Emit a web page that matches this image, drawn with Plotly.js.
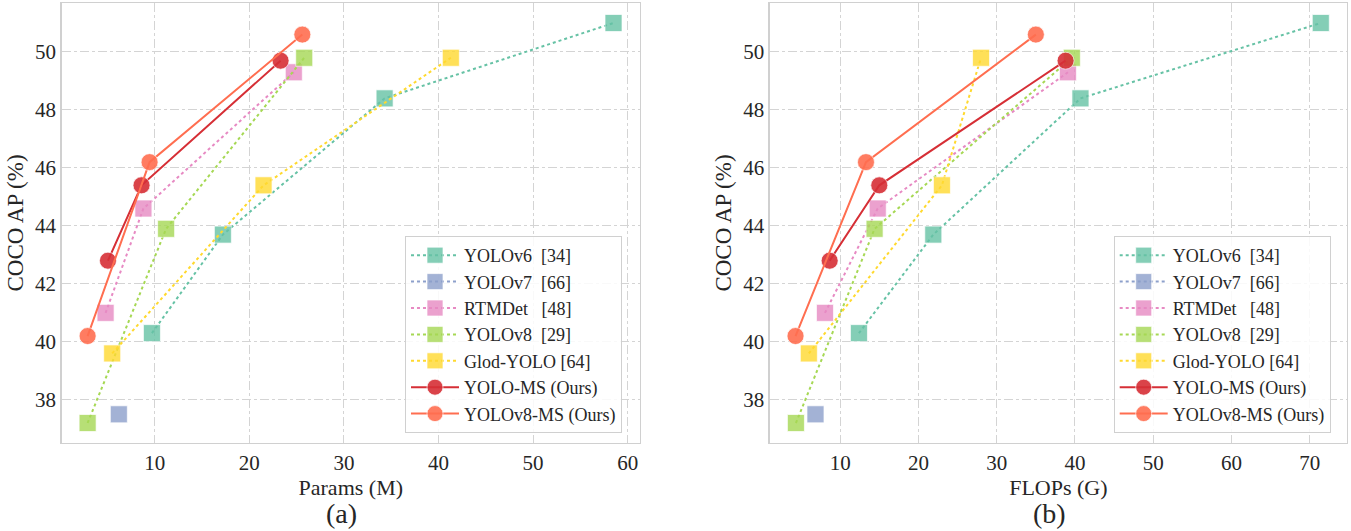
<!DOCTYPE html>
<html>
<head>
<meta charset="utf-8">
<script src="https://cdn.plot.ly/plotly-3.0.1.min.js"></script>
<style>html,body{margin:0;padding:0;background:#fff;}#chart{width:1351px;height:531px;}</style>
</head>
<body>
<div id="chart"></div>
<script>
// ---- data ----
const seriesNames = ['YOLOv6', 'YOLOv7', 'RTMDet', 'YOLOv8', 'Glod-YOLO', 'YOLO-MS', 'YOLOv8-MS'];
const legendLabels = [
  'YOLOv6\u00a0\u00a0[34]',
  'YOLOv7\u00a0\u00a0[66]',
  'RTMDet\u00a0\u00a0\u00a0[48]',
  'YOLOv8\u00a0\u00a0[29]',
  'Glod-YOLO\u00a0[64]',
  'YOLO-MS (Ours)',
  'YOLOv8-MS (Ours)'
];

// COCO AP (%)
const apYOLOv6   = [40.3, 43.7, 48.4, 51.0];
const apYOLOv7   = [37.5];
const apRTMDet   = [41.0, 44.6, 49.3];
const apYOLOv8   = [37.2, 43.9, 49.8];
const apGoldYOLO = [39.6, 45.4, 49.8];
const apYOLOMS   = [42.8, 45.4, 49.7];
const apYOLOv8MS = [40.2, 46.2, 50.6];

// Params (M)
const paramsYOLOv6   = [9.7, 17.2, 34.3, 58.5];
const paramsYOLOv7   = [6.2];
const paramsRTMDet   = [4.8, 8.8, 24.7];
const paramsYOLOv8   = [2.9, 11.2, 25.8];
const paramsGoldYOLO = [5.5, 21.5, 41.3];
const paramsYOLOMS   = [5.05, 8.6, 23.3];
const paramsYOLOv8MS = [2.9, 9.45, 25.6];

// FLOPs (G)
const flopsYOLOv6   = [12.4, 21.9, 40.7, 71.4];
const flopsYOLOv7   = [6.85];
const flopsRTMDet   = [8.06, 14.8, 39.1];
const flopsYOLOv8   = [4.35, 14.4, 39.6];
const flopsGoldYOLO = [6.0, 23.0, 28.0];
const flopsYOLOMS   = [8.66, 15.0, 38.8];
const flopsYOLOv8MS = [4.3, 13.3, 35.0];

const xTicksParams = [10, 20, 30, 40, 50, 60];
const xTicksFlops  = [10, 20, 30, 40, 50, 60, 70];
const yTicks = [38, 40, 42, 44, 46, 48, 50];

// ---- styles ----
const colors = ['#66c2a5', '#8da0cb', '#e78ac3', '#a6d854', '#ffd92f', '#d62f36', '#ff6e50'];
const symbols = ['square', 'square', 'square', 'square', 'square', 'circle', 'circle'];
const isOurs = [false, false, false, false, false, true, true];

const apAll = [apYOLOv6, apYOLOv7, apRTMDet, apYOLOv8, apGoldYOLO, apYOLOMS, apYOLOv8MS];
const paramsAll = [paramsYOLOv6, paramsYOLOv7, paramsRTMDet, paramsYOLOv8, paramsGoldYOLO, paramsYOLOMS, paramsYOLOv8MS];
const flopsAll = [flopsYOLOv6, flopsYOLOv7, flopsRTMDet, flopsYOLOv8, flopsGoldYOLO, flopsYOLOMS, flopsYOLOv8MS];

const FONT = 'Liberation Serif, Times New Roman, serif';
const TXT = '#262626';

function makeTraces(xsAll, xa, ya, legendId) {
  return seriesNames.map((n, i) => ({
    type: 'scatter',
    mode: 'lines+markers',
    name: legendLabels[i],
    x: xsAll[i],
    y: apAll[i],
    xaxis: xa,
    yaxis: ya,
    legend: legendId,
    line: {color: colors[i], width: 2, dash: isOurs[i] ? 'solid' : 'dot'},
    marker: {
      symbol: symbols[i],
      size: 17,
      color: colors[i],
      opacity: isOurs[i] ? 0.9 : 0.8,
      line: {color: 'rgba(255,255,255,0.7)', width: 1}
    },
    hoverinfo: 'x+y+name'
  }));
}

const data = [].concat(
  makeTraces(paramsAll, 'x', 'y', 'legend'),
  makeTraces(flopsAll, 'x2', 'y2', 'legend2')
);

const gridCommon = {
  showgrid: true,
  gridcolor: '#d4d4d4',
  gridwidth: 1,
  griddash: 'dashdot',
  zeroline: false,
  showline: true,
  mirror: true,
  linecolor: '#d0d0d0',
  linewidth: 1.3,
  ticks: '',
  tickfont: {family: FONT, size: 21, color: TXT}
};

const yDomain = [1 - 443 / 531, 1 - 3 / 531];

const legendCommon = {
  font: {family: FONT, size: 18, color: TXT},
  bgcolor: 'rgba(255,255,255,0.85)',
  bordercolor: '#d0d0d0',
  borderwidth: 1,
  xanchor: 'right',
  yanchor: 'bottom',
  tracegroupgap: 0,
  itemsizing: 'trace',
  itemwidth: 48
};

const titleFont = {family: FONT, size: 22, color: TXT};
const yTitleFont = {family: FONT, size: 23, color: TXT};

const layout = {
  width: 1351,
  height: 531,
  margin: {l: 0, r: 0, t: 0, b: 0},
  paper_bgcolor: '#ffffff',
  plot_bgcolor: '#ffffff',
  showlegend: true,
  xaxis: Object.assign({}, gridCommon, {
    domain: [61.6 / 1351, 640 / 1351],
    range: [0.15, 61.3],
    tickvals: xTicksParams,
    anchor: 'y',
    title: {text: 'Params (M)', font: titleFont, standoff: 0}
  }),
  yaxis: Object.assign({}, gridCommon, {
    domain: yDomain,
    range: [36.51, 51.69],
    tickvals: yTicks,
    anchor: 'x',
    title: {text: 'COCO AP (%)', font: yTitleFont, standoff: 5}
  }),
  xaxis2: Object.assign({}, gridCommon, {
    domain: [769.7 / 1351, 1347 / 1351],
    range: [1.0, 74.75],
    tickvals: xTicksFlops,
    anchor: 'y2',
    title: {text: 'FLOPs (G)', font: titleFont, standoff: 0}
  }),
  yaxis2: Object.assign({}, gridCommon, {
    domain: yDomain,
    range: [36.51, 51.69],
    tickvals: yTicks,
    anchor: 'x2',
    title: {text: 'COCO AP (%)', font: yTitleFont, standoff: 5}
  }),
  legend: Object.assign({}, legendCommon, {x: 622 / 1351, y: 1 - 433 / 531}),
  legend2: Object.assign({}, legendCommon, {x: 1330.7 / 1351, y: 1 - 433 / 531}),
  annotations: [
    {text: '(a)', xref: 'paper', yref: 'paper', x: 341 / 1351, y: 0,
     xanchor: 'center', yanchor: 'bottom', showarrow: false,
     font: {family: FONT, size: 28, color: TXT}},
    {text: '(b)', xref: 'paper', yref: 'paper', x: 1049 / 1351, y: 0,
     xanchor: 'center', yanchor: 'bottom', showarrow: false,
     font: {family: FONT, size: 28, color: TXT}}
  ]
};

Plotly.newPlot('chart', data, layout, {displayModeBar: false, staticPlot: true});
</script>
</body>
</html>
